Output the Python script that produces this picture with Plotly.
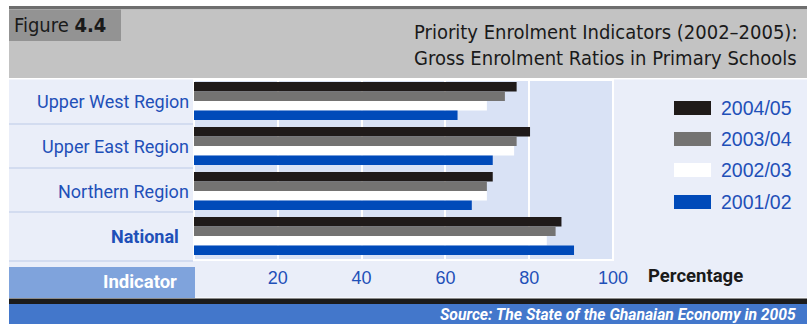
import plotly.graph_objects as go

# ---- data ----
categories = ["Upper West Region", "Upper East Region", "Northern Region", "National"]
series_names = ["2004/05", "2003/04", "2002/03", "2001/02"]
v_2004_05 = [77.0, 80.2, 71.3, 87.7]
v_2003_04 = [74.2, 77.0, 69.9, 86.3]
v_2002_03 = [69.9, 76.4, 69.9, 84.2]
v_2001_02 = [62.9, 71.3, 66.3, 90.7]
series_values = [v_2004_05, v_2003_04, v_2002_03, v_2001_02]
x_ticks = [20, 40, 60, 80, 100]
title_line1 = "Priority Enrolment Indicators (2002–2005):"
title_line2 = "Gross Enrolment Ratios in Primary Schools"
source_text = "Source: The State of the Ghanaian Economy in 2005"

# ---- style ----
colors = ["#1f1a19", "#747372", "#ffffff", "#004ab9"]
W, H = 812, 324
PL, PR, PT, PB = 194, 613, 80, 260
NARROW = "DejaVu Sans Condensed, sans-serif"
ROBOTO = "Roboto, Liberation Sans, sans-serif"
SANS = "Liberation Sans, Arial, sans-serif"
BLUE_TXT = "#1f50b8"


def px(x):
    return (x - PL) / (PR - PL)


def py(y):
    return (PB - y) / (PB - PT)


fig = go.Figure()
for name, vals, col in zip(series_names, series_values, colors):
    fig.add_trace(go.Bar(
        y=categories, x=vals, name=name, orientation="h",
        marker=dict(color=col, line=dict(width=0)),
        showlegend=False, hoverinfo="x+name",
    ))

shapes = []


def rect(x0, y0, x1, y1, fill, line=None, lw=0):
    shapes.append(dict(type="rect", xref="paper", yref="paper", layer="below",
                       x0=px(x0), x1=px(x1), y0=py(y1), y1=py(y0),
                       fillcolor=fill, line=dict(width=lw, color=line or fill)))


def hline(x0, x1, y, color, lw):
    shapes.append(dict(type="line", xref="paper", yref="paper", layer="below",
                       x0=px(x0), x1=px(x1), y0=py(y), y1=py(y),
                       line=dict(width=lw, color=color)))


rect(9, 6, 807, 9.5, "#6e6e6e")
rect(9, 9.5, 807, 78, "#c3c3c3")
rect(9, 9.5, 121, 41, "#939393")
rect(9, 79.5, 807, 297.5, "#eaeef9")
rect(PL, PT, PR, PB, "#d9e2f5", "#ffffff", 2)
for yy in [124, 168, 212, 261]:
    hline(9, 193, yy, "#d3dcf0", 2)
rect(9, 267, 195, 298, "#7fa3dc")
rect(9, 298.5, 807, 304, "#1b1b1b")
rect(9, 304, 807, 324, "#4377cb")

annotations = []


def text(x, y, s, size, color, family, xanchor="left", yref="paper", **kw):
    annotations.append(dict(x=px(x), y=(py(y) if yref == "paper" else y), xref="paper",
                            yref=yref, text=s, showarrow=False, xanchor=xanchor,
                            yanchor="middle", font=dict(size=size, color=color, family=family),
                            **kw))


# legend built from series lists
leg_y = [108, 139, 170, 202]
for name, col, yc in zip(series_names, colors, leg_y):
    rect(674, yc - 7, 711, yc + 7, col)
    text(719, yc, name, 19.5, BLUE_TXT, SANS)

# category labels placed on the y axis categories
for cat in categories:
    if cat == "National":
        text(181, cat, "<b>" + cat + "</b>", 18, BLUE_TXT, ROBOTO, xanchor="right", yref="y")
    else:
        text(191, cat, cat, 18, BLUE_TXT, ROBOTO, xanchor="right", yref="y")

text(12, 25, "Figure <b>4.4</b>", 20, "#1a1a1a", NARROW)
text(799, 32, title_line1, 20, "#1a1a1a", NARROW, xanchor="right")
text(799, 58, title_line2, 20, "#1a1a1a", NARROW, xanchor="right")
text(646, 276, "<b>Percentage</b>", 18.5, "#1a1a1a", ROBOTO)
text(179, 282, "<b>Indicator</b>", 18.5, "#ffffff", ROBOTO, xanchor="right")
text(798, 314, "<b><i>" + source_text + "</i></b>", 15.7, "#ffffff", ROBOTO, xanchor="right")

fig.update_layout(
    width=W, height=H,
    margin=dict(l=PL, r=W - PR, t=PT, b=H - PB, pad=0),
    paper_bgcolor="#ffffff", plot_bgcolor="rgba(0,0,0,0)",
    barmode="group", bargap=0.156, bargroupgap=0,
    shapes=shapes, annotations=annotations,
    xaxis=dict(range=[0, 100], tickvals=x_ticks, showgrid=True, gridcolor="#ffffff",
               gridwidth=2, zeroline=False, showline=False, ticks="",
               ticklabelstandoff=5,
               tickfont=dict(size=18, color=BLUE_TXT, family=SANS)),
    yaxis=dict(range=[3.533, -0.467], showticklabels=False, showgrid=False,
               zeroline=False, showline=False, ticks=""),
)

fig.write_html("out.html")
